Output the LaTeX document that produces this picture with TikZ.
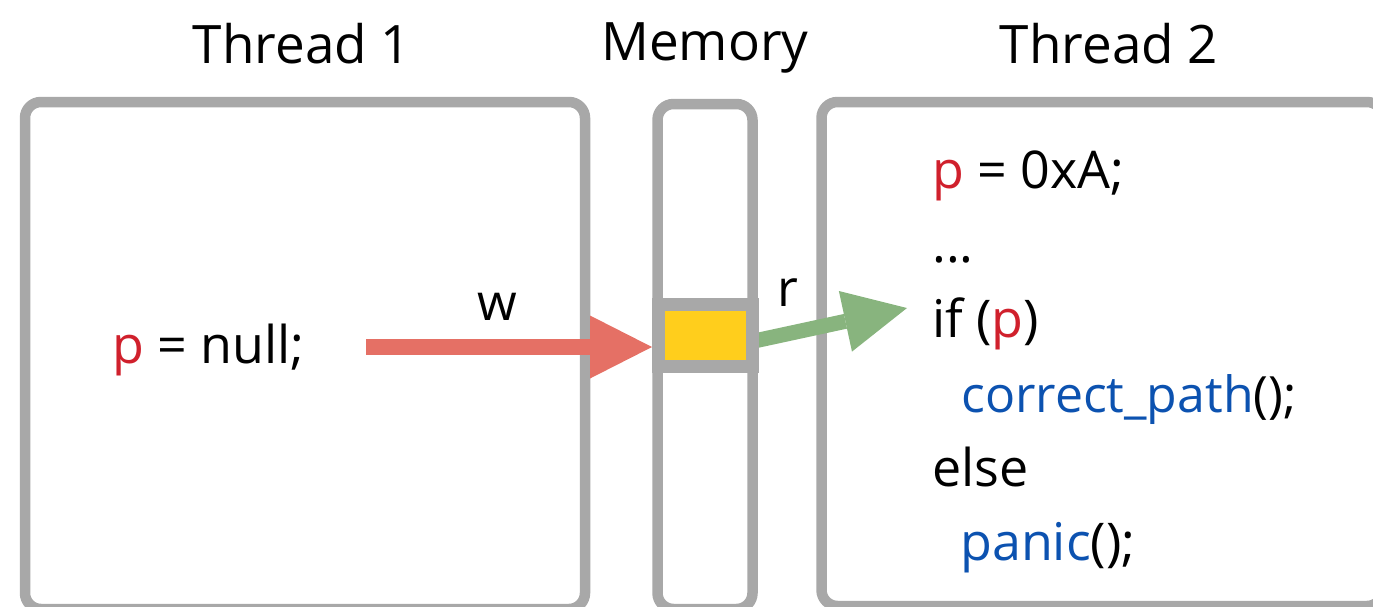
\documentclass[tikz,border=0pt]{standalone}
\usepackage{fontspec}
\setmainfont{Open Sans}
\usetikzlibrary{arrows.meta,calc}

\definecolor{framegray}{RGB}{168,168,168}
\definecolor{cellyellow}{RGB}{255,206,28}
\definecolor{writered}{RGB}{229,112,101}
\definecolor{readgreen}{RGB}{136,180,126}
\definecolor{varred}{RGB}{208,32,44}
\definecolor{fnblue}{RGB}{12,82,176}

\newcommand{\pvar}[1]{\textcolor{varred}{#1}}
\newcommand{\fncall}[1]{\textcolor{fnblue}{#1}}

\pgfdeclarelayer{frames}
\pgfdeclarelayer{links}
\pgfsetlayers{frames,links,main}

\tikzset{
  frame/.style={draw=framegray, line width=10.5pt, rounded corners=16pt},
  title/.style={anchor=base, inner sep=0pt, font=\fontsize{53}{63}\selectfont},
  code/.style={anchor=base west, inner sep=0pt, font=\fontsize{52}{62}\selectfont},
  longcode/.style={code, font=\fontsize{50}{60}\selectfont},
  edgelabel/.style={anchor=base, inner sep=0pt, font=\fontsize{51}{61}\selectfont},
  cell/.style={draw=framegray, fill=cellyellow, line width=13pt,
               minimum width=94pt, minimum height=62pt, inner sep=0pt},
  wlink/.style={draw=writered, line width=16pt,
    -{Triangle[length=62pt 0 0, width=63pt 0 0, line width=0pt]}},
  rlink/.style={draw=readgreen, line width=15pt,
    -{Triangle[length=63pt 0 0, width=62pt 0 0, line width=0pt]}}
}

\begin{document}
\begin{tikzpicture}[x=1pt, y=-1pt]
\useasboundingbox (0,0) rectangle (1373,606);

% thread and memory frames
\begin{pgfonlayer}{frames}
  \draw[frame] (25,102) rectangle (585,609);
  \draw[frame] (657.5,104) rectangle (752.5,609);
  \draw[frame] (821.5,102) rectangle (1383,606);
\end{pgfonlayer}

% column titles
\node[title] (t1title) at (302,63) {Thread 1};
\node[title] (memtitle) at (705,60) {Memory};
\node[title] (t2title) at (1109,63) {Thread 2};

% shared memory cell
\node[cell] (cell) at (705.5,335.5) {};

% thread 1 code
\node[code] (wline) at (112,363) {\pvar{p} = null;};

% thread 2 code
\node[code] (l1) at (932,188) {\pvar{p} = 0xA;};
\node[code] (l2) at (932,262) {...};
\node[code] (l3) at (932,337) {if (\pvar{p})};
\node[longcode] (l4) at (961,412) {\fncall{correct\_path}();};
\node[code] (l5) at (932,486) {else};
\node[code] (l6) at (960,560) {\fncall{panic}();};

% access labels
\node[edgelabel] (wlab) at (497,320) {w};
\node[edgelabel] (rlab) at (788,306) {r};

% write and read accesses
\coordinate (wstart) at (366,347);
\coordinate (rtip) at (907,308);
\begin{pgfonlayer}{links}
  \draw[wlink] (wstart) -- (wstart -| cell.west);
  \draw[rlink] ($(cell.east)+(-14,7.5)$) -- (rtip);
\end{pgfonlayer}
\end{tikzpicture}
\end{document}
